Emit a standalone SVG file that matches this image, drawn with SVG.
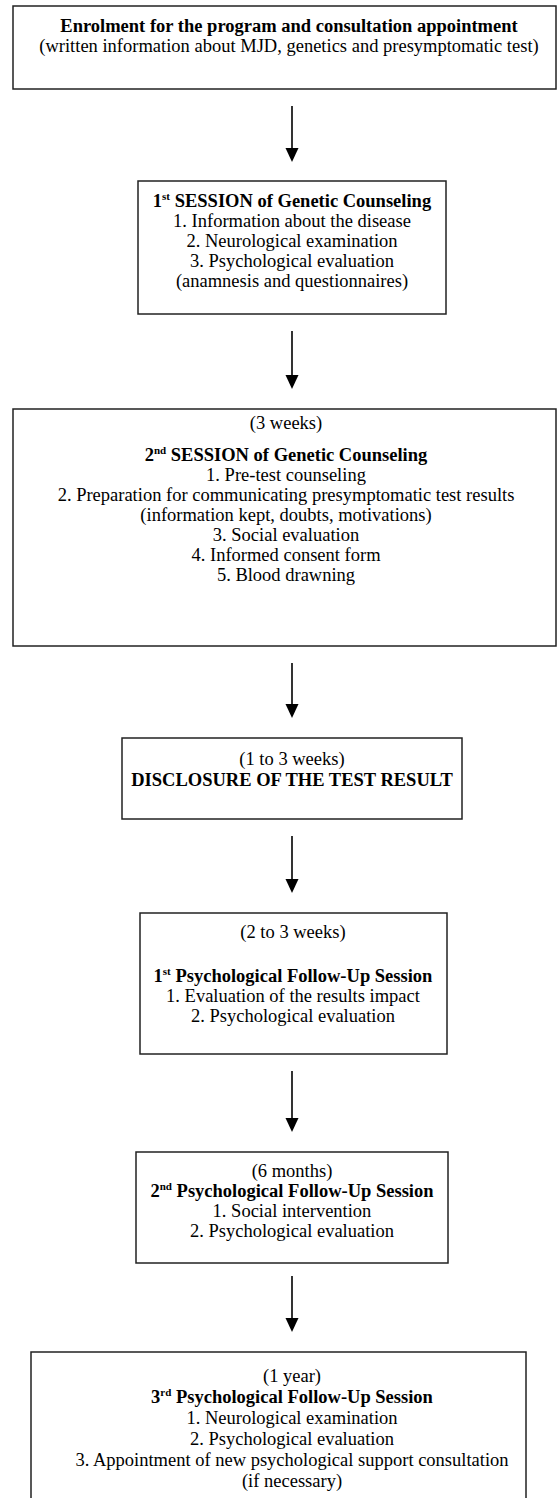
<svg xmlns="http://www.w3.org/2000/svg" width="559" height="1498" viewBox="0 0 559 1498">
<style>
text{font-family:"Liberation Serif","Times New Roman",serif;font-size:18.5px;fill:#000;text-anchor:middle}
.b{font-weight:bold}
.sup{font-size:11px}
.box{fill:#fff;stroke:#222;stroke-width:1.5}
.con{stroke:#000;stroke-width:1.6;fill:none}
.head{fill:#000}
</style>
<rect width="559" height="1498" fill="#fff"/>
<g id="connectors">
<line class="con" x1="292" y1="106" x2="292" y2="150"/><path class="head" d="M285.5,148 L298.5,148 L292,162 Z"/>
<line class="con" x1="292" y1="331" x2="292" y2="377"/><path class="head" d="M285.5,375 L298.5,375 L292,389 Z"/>
<line class="con" x1="292" y1="663" x2="292" y2="706"/><path class="head" d="M285.5,704 L298.5,704 L292,718 Z"/>
<line class="con" x1="292" y1="836" x2="292" y2="881"/><path class="head" d="M285.5,879 L298.5,879 L292,893 Z"/>
<line class="con" x1="292" y1="1071" x2="292" y2="1120"/><path class="head" d="M285.5,1118 L298.5,1118 L292,1132 Z"/>
<line class="con" x1="292" y1="1276" x2="292" y2="1320"/><path class="head" d="M285.5,1318 L298.5,1318 L292,1332 Z"/>
</g>
<g id="n1">
<rect class="box" x="13" y="6" width="543" height="83"/>
<text x="289" y="32" class="b">Enrolment for the program and consultation appointment</text>
<text x="289" y="52">(written information about MJD, genetics and presymptomatic test)</text>
</g>
<g id="n2">
<rect class="box" x="138" y="181" width="308" height="133"/>
<text x="292" y="207" class="b">1<tspan class="sup" dy="-7">st</tspan><tspan dy="7"> SESSION of Genetic Counseling</tspan></text>
<text x="292" y="227">1. Information about the disease</text>
<text x="292" y="247">2. Neurological examination</text>
<text x="292" y="267">3. Psychological evaluation</text>
<text x="292" y="287">(anamnesis and questionnaires)</text>
</g>
<g id="n3">
<rect class="box" x="13" y="409" width="543" height="237"/>
<text x="286" y="429">(3 weeks)</text>
<text x="286" y="461" class="b">2<tspan class="sup" dy="-7">nd</tspan><tspan dy="7"> SESSION of Genetic Counseling</tspan></text>
<text x="286" y="481">1. Pre-test counseling</text>
<text x="286" y="501">2. Preparation for communicating presymptomatic test results</text>
<text x="286" y="521">(information kept, doubts, motivations)</text>
<text x="286" y="541">3. Social evaluation</text>
<text x="286" y="561">4. Informed consent form</text>
<text x="286" y="581">5. Blood drawning</text>
</g>
<g id="n4">
<rect class="box" x="122" y="738" width="340" height="81"/>
<text x="292" y="765">(1 to 3 weeks)</text>
<text x="292" y="786" class="b">DISCLOSURE OF THE TEST RESULT</text>
</g>
<g id="n5">
<rect class="box" x="140" y="913" width="307" height="141"/>
<text x="293" y="938">(2 to 3 weeks)</text>
<text x="293" y="982" class="b">1<tspan class="sup" dy="-7">st</tspan><tspan dy="7"> Psychological Follow-Up Session</tspan></text>
<text x="293" y="1002">1. Evaluation of the results impact</text>
<text x="293" y="1022">2. Psychological evaluation</text>
</g>
<g id="n6">
<rect class="box" x="136" y="1152" width="312" height="111"/>
<text x="292" y="1177">(6 months)</text>
<text x="292" y="1197" class="b">2<tspan class="sup" dy="-7">nd</tspan><tspan dy="7"> Psychological Follow-Up Session</tspan></text>
<text x="292" y="1217">1. Social intervention</text>
<text x="292" y="1237">2. Psychological evaluation</text>
</g>
<g id="n7">
<rect class="box" x="31" y="1352" width="495" height="160"/>
<text x="292" y="1382">(1 year)</text>
<text x="292" y="1403" class="b">3<tspan class="sup" dy="-7">rd</tspan><tspan dy="7"> Psychological Follow-Up Session</tspan></text>
<text x="292" y="1424">1. Neurological examination</text>
<text x="292" y="1445">2. Psychological evaluation</text>
<text x="292" y="1466">3. Appointment of new psychological support consultation</text>
<text x="292" y="1487">(if necessary)</text>
</g>
</svg>
